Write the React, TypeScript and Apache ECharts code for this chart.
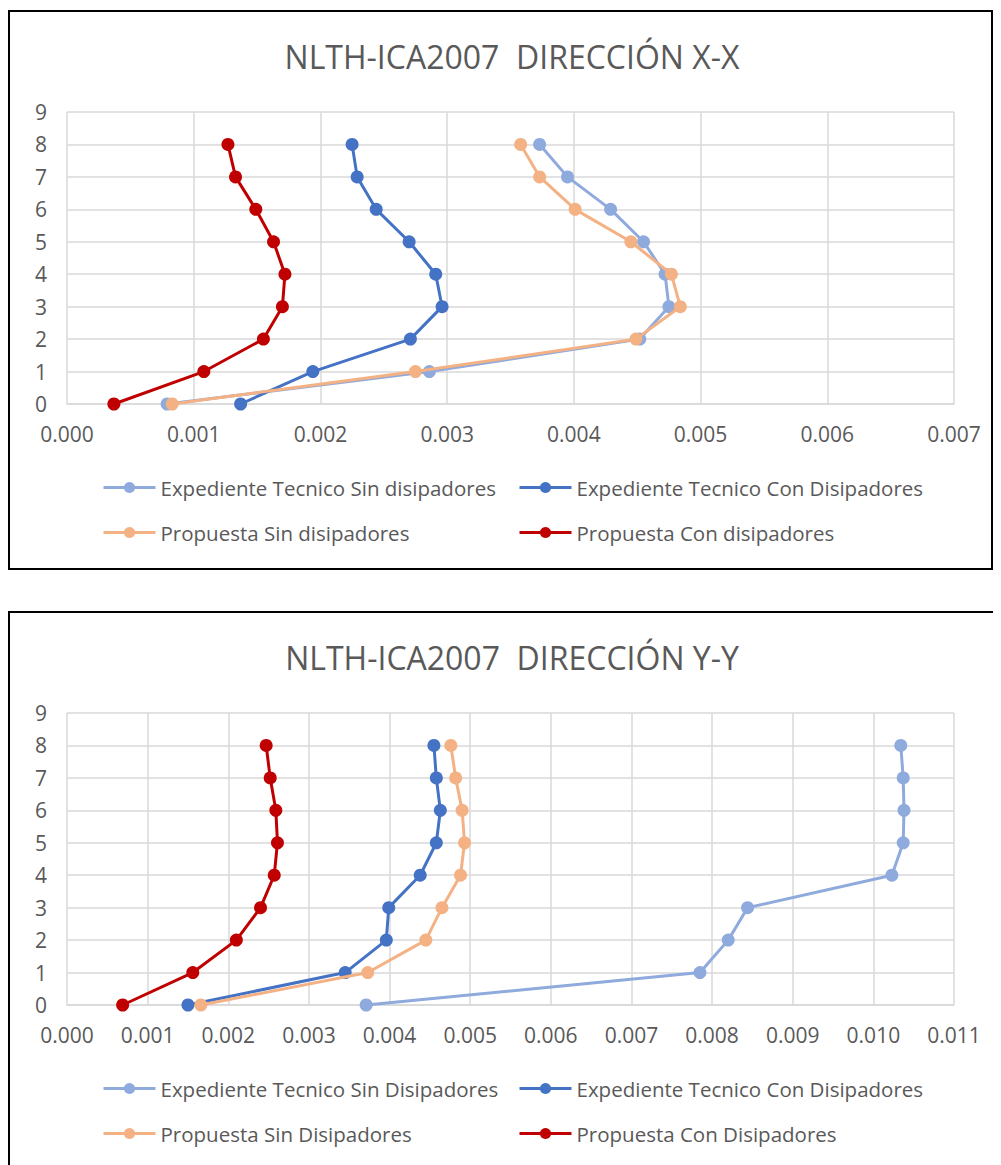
import React, { useEffect, useRef } from "react";
import * as echarts from "echarts";

// ---- data ----
const floors = [0, 1, 2, 3, 4, 5, 6, 7, 8];

const titleX = "NLTH-ICA2007  DIRECCIÓN X-X";
const namesX = [
  "Expediente Tecnico Sin disipadores",
  "Expediente Tecnico Con Disipadores",
  "Propuesta Sin disipadores",
  "Propuesta Con disipadores",
];
const expSinX = [0.00079, 0.00286, 0.00452, 0.00475, 0.00472, 0.00455, 0.00429, 0.00395, 0.00373];
const expConX = [0.00137, 0.00194, 0.00271, 0.00296, 0.00291, 0.0027, 0.00244, 0.00229, 0.00225];
const propSinX = [0.00083, 0.00275, 0.00449, 0.00484, 0.00477, 0.00445, 0.00401, 0.00373, 0.00358];
const propConX = [0.00037, 0.00108, 0.00155, 0.0017, 0.00172, 0.00163, 0.00149, 0.00133, 0.00127];
const xMaxX = 0.007;

const titleY = "NLTH-ICA2007  DIRECCIÓN Y-Y";
const namesY = [
  "Expediente Tecnico Sin Disipadores",
  "Expediente Tecnico Con Disipadores",
  "Propuesta Sin Disipadores",
  "Propuesta Con Disipadores",
];
const expSinY = [0.00371, 0.00785, 0.0082, 0.00844, 0.01023, 0.01037, 0.01038, 0.01037, 0.01034];
const expConY = [0.0015, 0.00345, 0.00396, 0.00399, 0.00438, 0.00458, 0.00463, 0.00458, 0.00455];
const propSinY = [0.00166, 0.00373, 0.00445, 0.00465, 0.00488, 0.00493, 0.0049, 0.00482, 0.00476];
const propConY = [0.00069, 0.00156, 0.0021, 0.0024, 0.00257, 0.00261, 0.00259, 0.00252, 0.00247];
const xMaxY = 0.011;

const colors = ["#8FAADC", "#4472C4", "#F4B183", "#C00000"];
const FONT = "'Open Sans', sans-serif";
const TEXT = "#595959";
const GRID = "#D9D9D9";

function buildOption(title: string, names: string[], seriesVals: number[][], xMax: number) {
  const legendPos = [
    { left: 92, top: 465 },
    { left: 508, top: 465 },
    { left: 92, top: 510 },
    { left: 508, top: 510 },
  ];
  return {
    animation: false,
    backgroundColor: "#ffffff",
    graphic: [
      {
        type: "text",
        x: 502,
        y: 44,
        style: {
          text: title,
          fill: TEXT,
          font: `32px ${FONT}`,
          align: "center",
          verticalAlign: "middle",
        },
      },
    ],
    legend: names.map((n, i) => ({
      data: [n],
      left: legendPos[i].left,
      top: legendPos[i].top,
      padding: 0,
      itemWidth: 52,
      itemHeight: 14,
      lineStyle: { width: 3 },
      textStyle: { fontFamily: FONT, fontSize: 20.5, color: TEXT },
      selectedMode: false,
    })),
    grid: { left: 57, top: 100, width: 887, height: 292, containLabel: false },
    xAxis: {
      type: "value",
      min: 0,
      max: xMax,
      interval: 0.001,
      axisLine: { show: true, lineStyle: { color: GRID, width: 1.5 } },
      axisTick: { show: false },
      splitLine: { show: true, lineStyle: { color: GRID, width: 1.5 } },
      axisLabel: {
        fontFamily: FONT,
        fontSize: 21,
        color: TEXT,
        margin: 19,
        formatter: (v: number) => v.toFixed(3),
      },
    },
    yAxis: {
      type: "value",
      min: 0,
      max: 9,
      interval: 1,
      axisLine: { show: false },
      axisTick: { show: false },
      splitLine: { show: true, lineStyle: { color: GRID, width: 1.5 } },
      axisLabel: { fontFamily: FONT, fontSize: 21, color: TEXT, margin: 20 },
    },
    series: seriesVals.map((vals, i) => ({
      name: names[i],
      type: "line",
      data: floors.map((f, k) => [vals[k], f]),
      symbol: "circle",
      symbolSize: 13,
      showSymbol: true,
      color: colors[i],
      itemStyle: { color: colors[i] },
      lineStyle: { color: colors[i], width: 3 },
      z: 2 + i,
    })),
  };
}

function Chart(props: { title: string; names: string[]; vals: number[][]; xMax: number; w: number; h: number }) {
  const ref = useRef<HTMLDivElement>(null);
  useEffect(() => {
    if (!ref.current) return;
    const chart = echarts.init(ref.current, undefined, { renderer: "svg" });
    chart.setOption(buildOption(props.title, props.names, props.vals, props.xMax) as any);
    return () => chart.dispose();
  }, []);
  return <div ref={ref} style={{ width: props.w, height: props.h }} />;
}

export default function App() {
  useEffect(() => {
    document.body.style.overflow = "hidden";
    document.documentElement.style.overflow = "hidden";
  }, []);
  return (
    <div style={{ position: "relative", width: 993, height: 1157, overflow: "hidden" }}>
      <div
        style={{
          position: "absolute",
          left: 0,
          top: 2,
          width: 985,
          height: 560,
          border: "2px solid #000",
          boxSizing: "border-box",
          background: "#fff",
        }}
      >
        <Chart title={titleX} names={namesX} vals={[expSinX, expConX, propSinX, propConX]} xMax={xMaxX} w={981} h={556} />
      </div>
      <div
        style={{
          position: "absolute",
          left: 0,
          top: 603,
          width: 1010,
          height: 600,
          border: "2px solid #000",
          boxSizing: "border-box",
          background: "#fff",
        }}
      >
        <Chart title={titleY} names={namesY} vals={[expSinY, expConY, propSinY, propConY]} xMax={xMaxY} w={1006} h={596} />
      </div>
    </div>
  );
}
